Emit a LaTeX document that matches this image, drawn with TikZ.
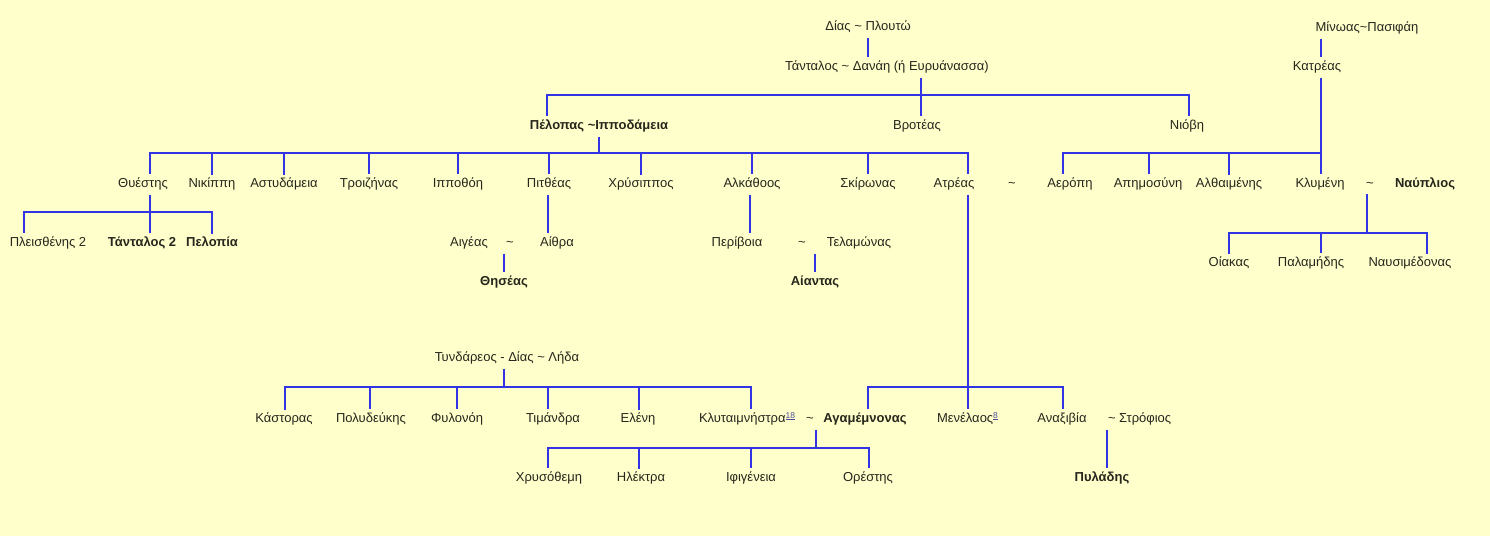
\documentclass[tikz,border=0pt]{standalone}
\usepackage{fontspec}
\setmainfont{Liberation Sans}
\definecolor{bgc}{HTML}{FFFFCC}
\definecolor{txc}{HTML}{26261C}
\definecolor{lnc}{HTML}{3333E6}
\definecolor{lkc}{HTML}{4B4B9B}
\newcommand{\lnk}[1]{\raisebox{4.5pt}{\fontsize{8.5}{9}\selectfont\textcolor{lkc}{\underline{#1}}}}
\newcommand{\tlde}{\textasciitilde}
\begin{document}
\begin{tikzpicture}[x=1pt,y=-1pt,
  txt/.style={inner sep=0pt, outer xsep=0pt, outer ysep=4pt, text height=10pt, text depth=3pt, text=txc, font=\fontsize{13}{15}\selectfont},
  bld/.style={txt, font=\fontsize{13}{15}\selectfont\bfseries},
  ln/.style={draw=lnc, line width=1.1pt},
  lnb/.style={draw=lnc, line width=2pt, line cap=rect},
  lnm/.style={draw=lnc, line width=1.6pt, line cap=rect}]
\fill[bgc] (0,0) rectangle (1490,536);
\useasboundingbox (0,0) rectangle (1490,536);
% ---- nodes
\node[txt] (zeus) at (868,27) {Δίας \tlde{} Πλουτώ};
\node[txt] (tant) at (887,67) {Τάνταλος \tlde{} Δανάη (ή Ευρυάνασσα)};
\node[bld] (pelops) at (599,126) {Πέλοπας \tlde Ιπποδάμεια};
\node[txt] (brot) at (917,126) {Βροτέας};
\node[txt] (niobi) at (1187,126) {Νιόβη};
\node[txt] (minos) at (1367,28) {Μίνωας\tlde Πασιφάη};
\node[txt] (katr) at (1317,67) {Κατρέας};
% row 184
\node[txt] (thy) at (143,184) {Θυέστης};
\node[txt] (nik) at (212,184) {Νικίππη};
\node[txt] (ast) at (284,184) {Αστυδάμεια};
\node[txt] (troi) at (369,184) {Τροιζήνας};
\node[txt] (ipp) at (458,184) {Ιπποθόη};
\node[txt] (pit) at (549,184) {Πιτθέας};
\node[txt] (chr) at (641,184) {Χρύσιππος};
\node[txt] (alk) at (752,184) {Αλκάθοος};
\node[txt] (skir) at (868,184) {Σκίρωνας};
\node[txt] (atr) at (954,184) {Ατρέας};
\node[txt] (tl1) at (1012,184) {\tlde};
\node[txt] (aer) at (1070,184) {Αερόπη};
\node[txt] (apim) at (1148,184) {Απημοσύνη};
\node[txt] (alth) at (1229,184) {Αλθαιμένης};
\node[txt] (klym) at (1320,184) {Κλυμένη};
\node[txt] (tl2) at (1370,184) {\tlde};
\node[bld] (nafp) at (1425,184) {Ναύπλιος};
% row 243
\node[txt] (pleis) at (48,243) {Πλεισθένης 2};
\node[bld] (tant2) at (142,243) {Τάνταλος 2};
\node[bld] (pelopia) at (212,243) {Πελοπία};
\node[txt] (aig) at (469,243) {Αιγέας};
\node[txt] (tl3) at (510,243) {\tlde};
\node[txt] (aith) at (557,243) {Αίθρα};
\node[txt] (perib) at (737,243) {Περίβοια};
\node[txt] (tl4) at (802,243) {\tlde};
\node[txt] (telam) at (859,243) {Τελαμώνας};
\node[bld] (thes) at (504,282) {Θησέας};
\node[bld] (aiant) at (815,282) {Αίαντας};
% row 263
\node[txt] (oiak) at (1229,263) {Οίακας};
\node[txt] (palam) at (1311,263) {Παλαμήδης};
\node[txt] (nafs) at (1410,263) {Ναυσιμέδονας};
% lower part
\node[txt] (tynd) at (507,358) {Τυνδάρεος - Δίας \tlde{} Λήδα};
\node[txt] (kast) at (284,419) {Κάστορας};
\node[txt] (polyd) at (371,419) {Πολυδεύκης};
\node[txt] (fyl) at (457,419) {Φυλονόη};
\node[txt] (tim) at (553,419) {Τιμάνδρα};
\node[txt] (elen) at (638,419) {Ελένη};
\node[txt, anchor=west] (klyt) at (699,419) {Κλυταιμνήστρα\lnk{18}};
\node[txt] (tl5) at (810,419) {\tlde};
\node[bld] (agam) at (865,419) {Αγαμέμνονας};
\node[txt, anchor=west] (men) at (937,419) {Μενέλαος\lnk{8}};
\node[txt] (anax) at (1062,419) {Αναξιβία};
\node[txt, anchor=west] (strof) at (1108,419) {\tlde{} Στρόφιος};
\node[txt] (chrys) at (549,478) {Χρυσόθεμη};
\node[txt] (ilek) at (641,478) {Ηλέκτρα};
\node[txt] (ifig) at (751,478) {Ιφιγένεια};
\node[txt] (orest) at (868,478) {Ορέστης};
\node[bld] (pyl) at (1102,478) {Πυλάδης};
% ---- bar levels
\coordinate (yA) at (0,95);
\coordinate (yB) at (0,153);
\coordinate (yC) at (0,212);
\coordinate (yD) at (0,233);
\coordinate (yE) at (0,387);
\coordinate (yF) at (0,448);
% ---- connectors
\draw[ln] (zeus.south) -- (zeus.south |- tant.north);
\draw[ln] ([xshift=34pt]tant.south) -- ([xshift=34pt]tant.south |- brot.north);
\draw[ln] ([xshift=-52pt]pelops.north) -- ([xshift=-52pt]pelops.north |- yA) -- ([xshift=2pt]niobi.north |- yA) -- ([xshift=2pt]niobi.north);
% Pelops
\draw[ln] (pelops.south) -- (pelops.south |- yB);
\draw[lnb] ([xshift=7pt]thy.north |- yB) -- ([xshift=14pt]atr.north |- yB);
\foreach \n in {troi,ipp,pit,alk,skir} \draw[ln] (\n.north |- yB) -- (\n.north);
\foreach \n in {nik,ast,chr} \draw[lnb] (\n.north |- yB) -- (\n.north);
\draw[ln] ([xshift=7pt]thy.north |- yB) -- ([xshift=7pt]thy.north);
\draw[ln] ([xshift=14pt]atr.north |- yB) -- ([xshift=14pt]atr.north);
% Thyestis
\draw[ln] ([xshift=7pt]thy.south) -- ([xshift=7pt]thy.south |- tant2.north);
\draw[lnm] ([xshift=-24pt]pleis.north |- yC) -- (pelopia.north |- yC);
\draw[ln] ([xshift=-24pt]pleis.north |- yC) -- ([xshift=-24pt]pleis.north);
\draw[lnb] (pelopia.north |- yC) -- (pelopia.north);
% Pitheas, Alkathoos
\draw[ln] ([xshift=-1pt]pit.south) -- ([xshift=-1pt]pit.south |- aith.north);
\draw[ln] (thes.north |- tl3.south) -- (thes.north);
\draw[ln] ([xshift=-2pt]alk.south) -- ([xshift=-2pt]alk.south |- perib.north);
\draw[ln] (aiant.north |- tl4.south) -- (aiant.north);
% Atreas
\draw[ln] ([xshift=14pt]atr.south) -- ([xshift=14pt]atr.south |- yE);
\draw[lnb] ([xshift=3pt]agam.north |- yE) -- ([xshift=1pt]anax.north |- yE);
\draw[ln] ([xshift=3pt]agam.north |- yE) -- ([xshift=3pt]agam.north);
\draw[ln] ([xshift=31pt]men.north west |- yE) -- ([xshift=31pt]men.north west);
\draw[ln] ([xshift=1pt]anax.north |- yE) -- ([xshift=1pt]anax.north);
% Tyndareos
\draw[ln] ([xshift=-3pt]tynd.south) -- ([xshift=-3pt]tynd.south |- yE);
\draw[lnb] ([xshift=1pt]kast.north |- yE) -- ([xshift=52pt]klyt.north west |- yE);
\draw[lnb] ([xshift=1pt]kast.north |- yE) -- ([xshift=1pt]kast.north);
\draw[ln] ([xshift=-1pt]polyd.north |- yE) -- ([xshift=-1pt]polyd.north);
\draw[ln] (fyl.north |- yE) -- (fyl.north);
\draw[ln] ([xshift=-5pt]tim.north |- yE) -- ([xshift=-5pt]tim.north);
\draw[lnb] ([xshift=1pt]elen.north |- yE) -- ([xshift=1pt]elen.north);
\draw[ln] ([xshift=52pt]klyt.north west |- yE) -- ([xshift=52pt]klyt.north west);
% Klytaimnistra ~ Agamemnonas
\draw[ln] ([xshift=6pt]tl5.south) -- ([xshift=6pt]tl5.south |- yF);
\draw[lnb] ([xshift=-1pt]chrys.north |- yF) -- ([xshift=1pt]orest.north |- yF);
\draw[ln] ([xshift=-1pt]chrys.north |- yF) -- ([xshift=-1pt]chrys.north);
\draw[lnb] ([xshift=-2pt]ilek.north |- yF) -- ([xshift=-2pt]ilek.north);
\draw[ln] (ifig.north |- yF) -- (ifig.north);
\draw[ln] ([xshift=1pt]orest.north |- yF) -- ([xshift=1pt]orest.north);
% Strofios
\draw[ln] ([xshift=-1pt]strof.south west) -- ([xshift=-1pt]strof.south west |- pyl.north);
% Minos, Katreas
\draw[ln] ([xshift=4pt]katr.north |- minos.south) -- ([xshift=4pt]katr.north);
\draw[ln] ([xshift=4pt]katr.south) -- ([xshift=4pt]katr.south |- klym.north);
\draw[lnb] ([xshift=-7pt]aer.north |- yB) -- ([xshift=4pt]katr.south |- yB);
\draw[ln] ([xshift=-7pt]aer.north |- yB) -- ([xshift=-7pt]aer.north);
\draw[ln] ([xshift=1pt]apim.north |- yB) -- ([xshift=1pt]apim.north);
\draw[lnb] (alth.north |- yB) -- (alth.north);
% Nafplios
\draw[lnb] ([xshift=-3pt]tl2.south) -- ([xshift=-3pt]tl2.south |- yD);
\draw[lnb] (oiak.north |- yD) -- ([xshift=17pt]nafs.north |- yD);
\draw[lnb] (oiak.north |- yD) -- (oiak.north);
\draw[ln] ([xshift=10pt]palam.north |- yD) -- ([xshift=10pt]palam.north);
\draw[lnb] ([xshift=17pt]nafs.north |- yD) -- ([xshift=17pt]nafs.north);
\end{tikzpicture}
\end{document}
